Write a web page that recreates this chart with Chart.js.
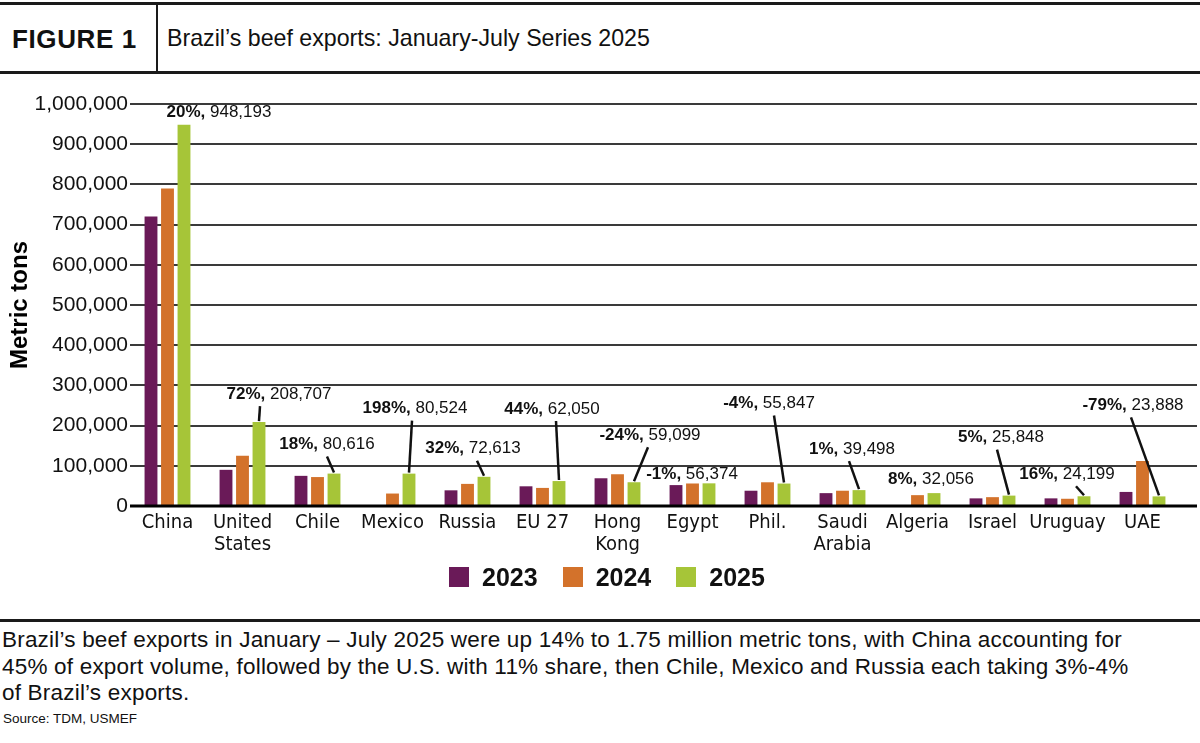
<!DOCTYPE html>
<html>
<head>
<meta charset="utf-8">
<title>Brazil's beef exports</title>
<script src="https://cdn.jsdelivr.net/npm/chart.js@4.4.1/dist/chart.umd.min.js"></script>
<style>
    body { margin: 0; background: #fff; font-family: "Liberation Sans", Arial, sans-serif; color: #111; }
    #page { position: relative; width: 1200px; height: 743px; overflow: hidden; }
    .rule { position: absolute; left: 0; width: 1200px; height: 3px; background: #1a1a1a; }
    #divider { position: absolute; left: 156px; top: 4px; width: 2px; height: 68px; background: #1a1a1a; }
    #fig { position: absolute; left: 12px; top: 24px; font: bold 26px "Liberation Sans", Arial, sans-serif; letter-spacing: 0.6px; }
    #title { position: absolute; left: 167px; top: 25px; font: 23.2px "Liberation Sans", Arial, sans-serif; }
    #chart { position: absolute; left: 0; top: 74px; }
    #legend { position: absolute; left: 449px; top: 562px; display: flex; font: bold 25px "Liberation Sans", Arial, sans-serif; line-height: 30px; }
    #legend .item { display: flex; align-items: center; margin-right: 25px; }
    #legend .box { width: 20px; height: 20px; margin-right: 13px; }
    #note { position: absolute; left: 2px; top: 627px; font-size: 22.5px; line-height: 26.5px; letter-spacing: 0.2px; }
    #source { position: absolute; left: 3px; top: 711px; font-size: 13.5px; }
</style>
</head>
<body>
<div id="page">
    <div class="rule" style="top:2px"></div>
    <div id="divider"></div>
    <div id="fig">FIGURE 1</div>
    <div id="title">Brazil’s beef exports: January-July Series 2025</div>
    <div class="rule" style="top:71px"></div>
    <canvas id="chart" width="1200" height="545"></canvas>
    <div id="legend"></div>
    <div class="rule" style="top:619px"></div>
    <div id="note">Brazil’s beef exports in January – July 2025 were up 14% to 1.75 million metric tons, with China accounting for<br>45% of export volume, followed by the U.S. with 11% share, then Chile, Mexico and Russia each taking 3%-4%<br>of Brazil’s exports.</div>
    <div id="source">Source: TDM, USMEF</div>
</div>
<script>
// data (metric tons)
const categories = ['China', ['United', 'States'], 'Chile', 'Mexico', 'Russia', 'EU 27', ['Hong', 'Kong'],
    'Egypt', 'Phil.', ['Saudi', 'Arabia'], 'Algeria', 'Israel', 'Uruguay', 'UAE'];
const exports2023 = [720000, 90000, 75000, null, 39000, 49000, 69000, 52000, 38000, 32000, null, 19000, 19000, 35000];
const exports2024 = [790000, 125000, 72000, 31000, 55000, 45000, 79000, 56000, 59000, 38000, 27000, 22000, 18000, 112000];
const exports2025 = [948193, 208707, 80616, 80524, 72613, 62050, 59099, 56374, 55847, 39498, 32056, 25848, 24199, 23888];
const changeLabels = ['20%', '72%', '18%', '198%', '32%', '44%', '-24%', '-1%', '-4%', '1%', '8%', '5%', '16%', '-79%'];
const yTicks = [0, 100000, 200000, 300000, 400000, 500000, 600000, 700000, 800000, 900000, 1000000];

// where each 2025 label sits relative to the top of its bar (px), and leader line start (null = no line)
const labelDx = [35, 20, -7, 6, -11, -7, 16, -17, -15, -7, -3, -8, -17, -26];
const labelDy = [-13, -28, -29, -65, -28, -72, -47, -9, -80, -41, -14, -58, -22, -91];
const lineDx = [null, -19, 0, -3, 4, 4, -2, null, 5, -3, null, -4, 9, -2];

const colors = ['#6a1a58', '#d3722b', '#a6c538'];
const condensed = '"DejaVu Sans Condensed", "Liberation Sans", sans-serif';
const sans = '"Liberation Sans", Arial, sans-serif';

// horizontal grid lines run a bit past the plot area, zero line is heavier
const gridPlugin = {
    id: 'grid',
    beforeDatasetsDraw(chart) {
        const ctx = chart.ctx;
        const y = chart.scales.y;
        const left = chart.chartArea.left;
        ctx.save();
        ctx.strokeStyle = '#3a3a3a';
        ctx.lineWidth = 2;
        yTicks.forEach(v => {
            if (v === 0) return;
            const py = Math.round(y.getPixelForValue(v));
            ctx.beginPath();
            ctx.moveTo(left, py);
            ctx.lineTo(1197, py);
            ctx.stroke();
        });
        ctx.restore();
    },
    afterDatasetsDraw(chart) {
        const ctx = chart.ctx;
        const py = Math.round(chart.scales.y.getPixelForValue(0));
        ctx.save();
        ctx.strokeStyle = '#000';
        ctx.lineWidth = 3;
        ctx.beginPath();
        ctx.moveTo(chart.chartArea.left, py);
        ctx.lineTo(1197, py);
        ctx.stroke();
        ctx.restore();
    }
};

// "20%, 948,193" style labels on the 2025 bars
const labelPlugin = {
    id: 'barLabels',
    afterDatasetsDraw(chart) {
        const ctx = chart.ctx;
        const bars = chart.getDatasetMeta(2).data;
        ctx.save();
        ctx.textBaseline = 'middle';
        ctx.textAlign = 'left';
        ctx.fillStyle = '#111';
        bars.forEach((bar, i) => {
            const cx = bar.x + labelDx[i];
            const cy = bar.y + labelDy[i];
            const bold = changeLabels[i] + ',';
            const rest = ' ' + exports2025[i].toLocaleString('en-US');
            ctx.font = 'bold 17px ' + sans;
            const wb = ctx.measureText(bold).width;
            ctx.font = '17px ' + sans;
            const wr = ctx.measureText(rest).width;
            const x0 = cx - (wb + wr) / 2;
            ctx.font = 'bold 17px ' + sans;
            ctx.fillText(bold, x0, cy);
            ctx.font = '17px ' + sans;
            ctx.fillText(rest, x0 + wb, cy);
            if (lineDx[i] !== null) {
                ctx.strokeStyle = '#111';
                ctx.lineWidth = 2.5;
                ctx.beginPath();
                ctx.moveTo(cx + lineDx[i], cy + 12);
                ctx.lineTo(bar.x, bar.y - 1);
                ctx.stroke();
            }
        });
        ctx.restore();
    }
};

const ctx = document.getElementById('chart').getContext('2d');
const myChart = new Chart(ctx, {
    type: 'bar',
    data: {
        labels: categories,
        datasets: [
            { label: '2023', data: exports2023, backgroundColor: colors[0] },
            { label: '2024', data: exports2024, backgroundColor: colors[1] },
            { label: '2025', data: exports2025, backgroundColor: colors[2] }
        ]
    },
    options: {
        responsive: false,
        animation: false,
        devicePixelRatio: 1,
        categoryPercentage: 0.66,
        barPercentage: 0.78,
        layout: { padding: { top: 30, right: 20, left: 0, bottom: 53 } },
        plugins: {
            tooltip: { enabled: false },
            legend: { display: false }
        },
        scales: {
            x: {
                afterFit(scale) { scale.height = 60; },
                grid: { display: false, drawTicks: false, tickLength: 0 },
                border: { display: false },
                ticks: {
                    color: '#111',
                    autoSkip: false,
                    maxRotation: 0,
                    padding: 6,
                    font: { family: condensed, size: 20, lineHeight: 1.1 }
                }
            },
            y: {
                min: 0,
                max: 1000000,
                afterFit(scale) { scale.width = 130; },
                grid: { display: false, drawTicks: false, tickLength: 0 },
                border: { display: false },
                ticks: {
                    stepSize: 100000,
                    padding: 2,
                    color: '#111',
                    font: { family: sans, size: 21 },
                    callback: v => v.toLocaleString('en-US')
                },
                title: {
                    display: true,
                    text: 'Metric tons',
                    color: '#000',
                    padding: { top: 6, bottom: 0 },
                    font: { family: sans, size: 24, weight: 'bold' }
                }
            }
        }
    },
    plugins: [gridPlugin, labelPlugin]
});

// legend built from the chart's own datasets
function buildLegend(chart) {
    const legend = document.getElementById('legend');
    chart.data.datasets.forEach(ds => {
        const item = document.createElement('div');
        item.className = 'item';
        const box = document.createElement('span');
        box.className = 'box';
        box.style.background = ds.backgroundColor;
        const text = document.createElement('span');
        text.textContent = ds.label;
        item.appendChild(box);
        item.appendChild(text);
        legend.appendChild(item);
    });
}
buildLegend(myChart);
</script>
</body>
</html>
